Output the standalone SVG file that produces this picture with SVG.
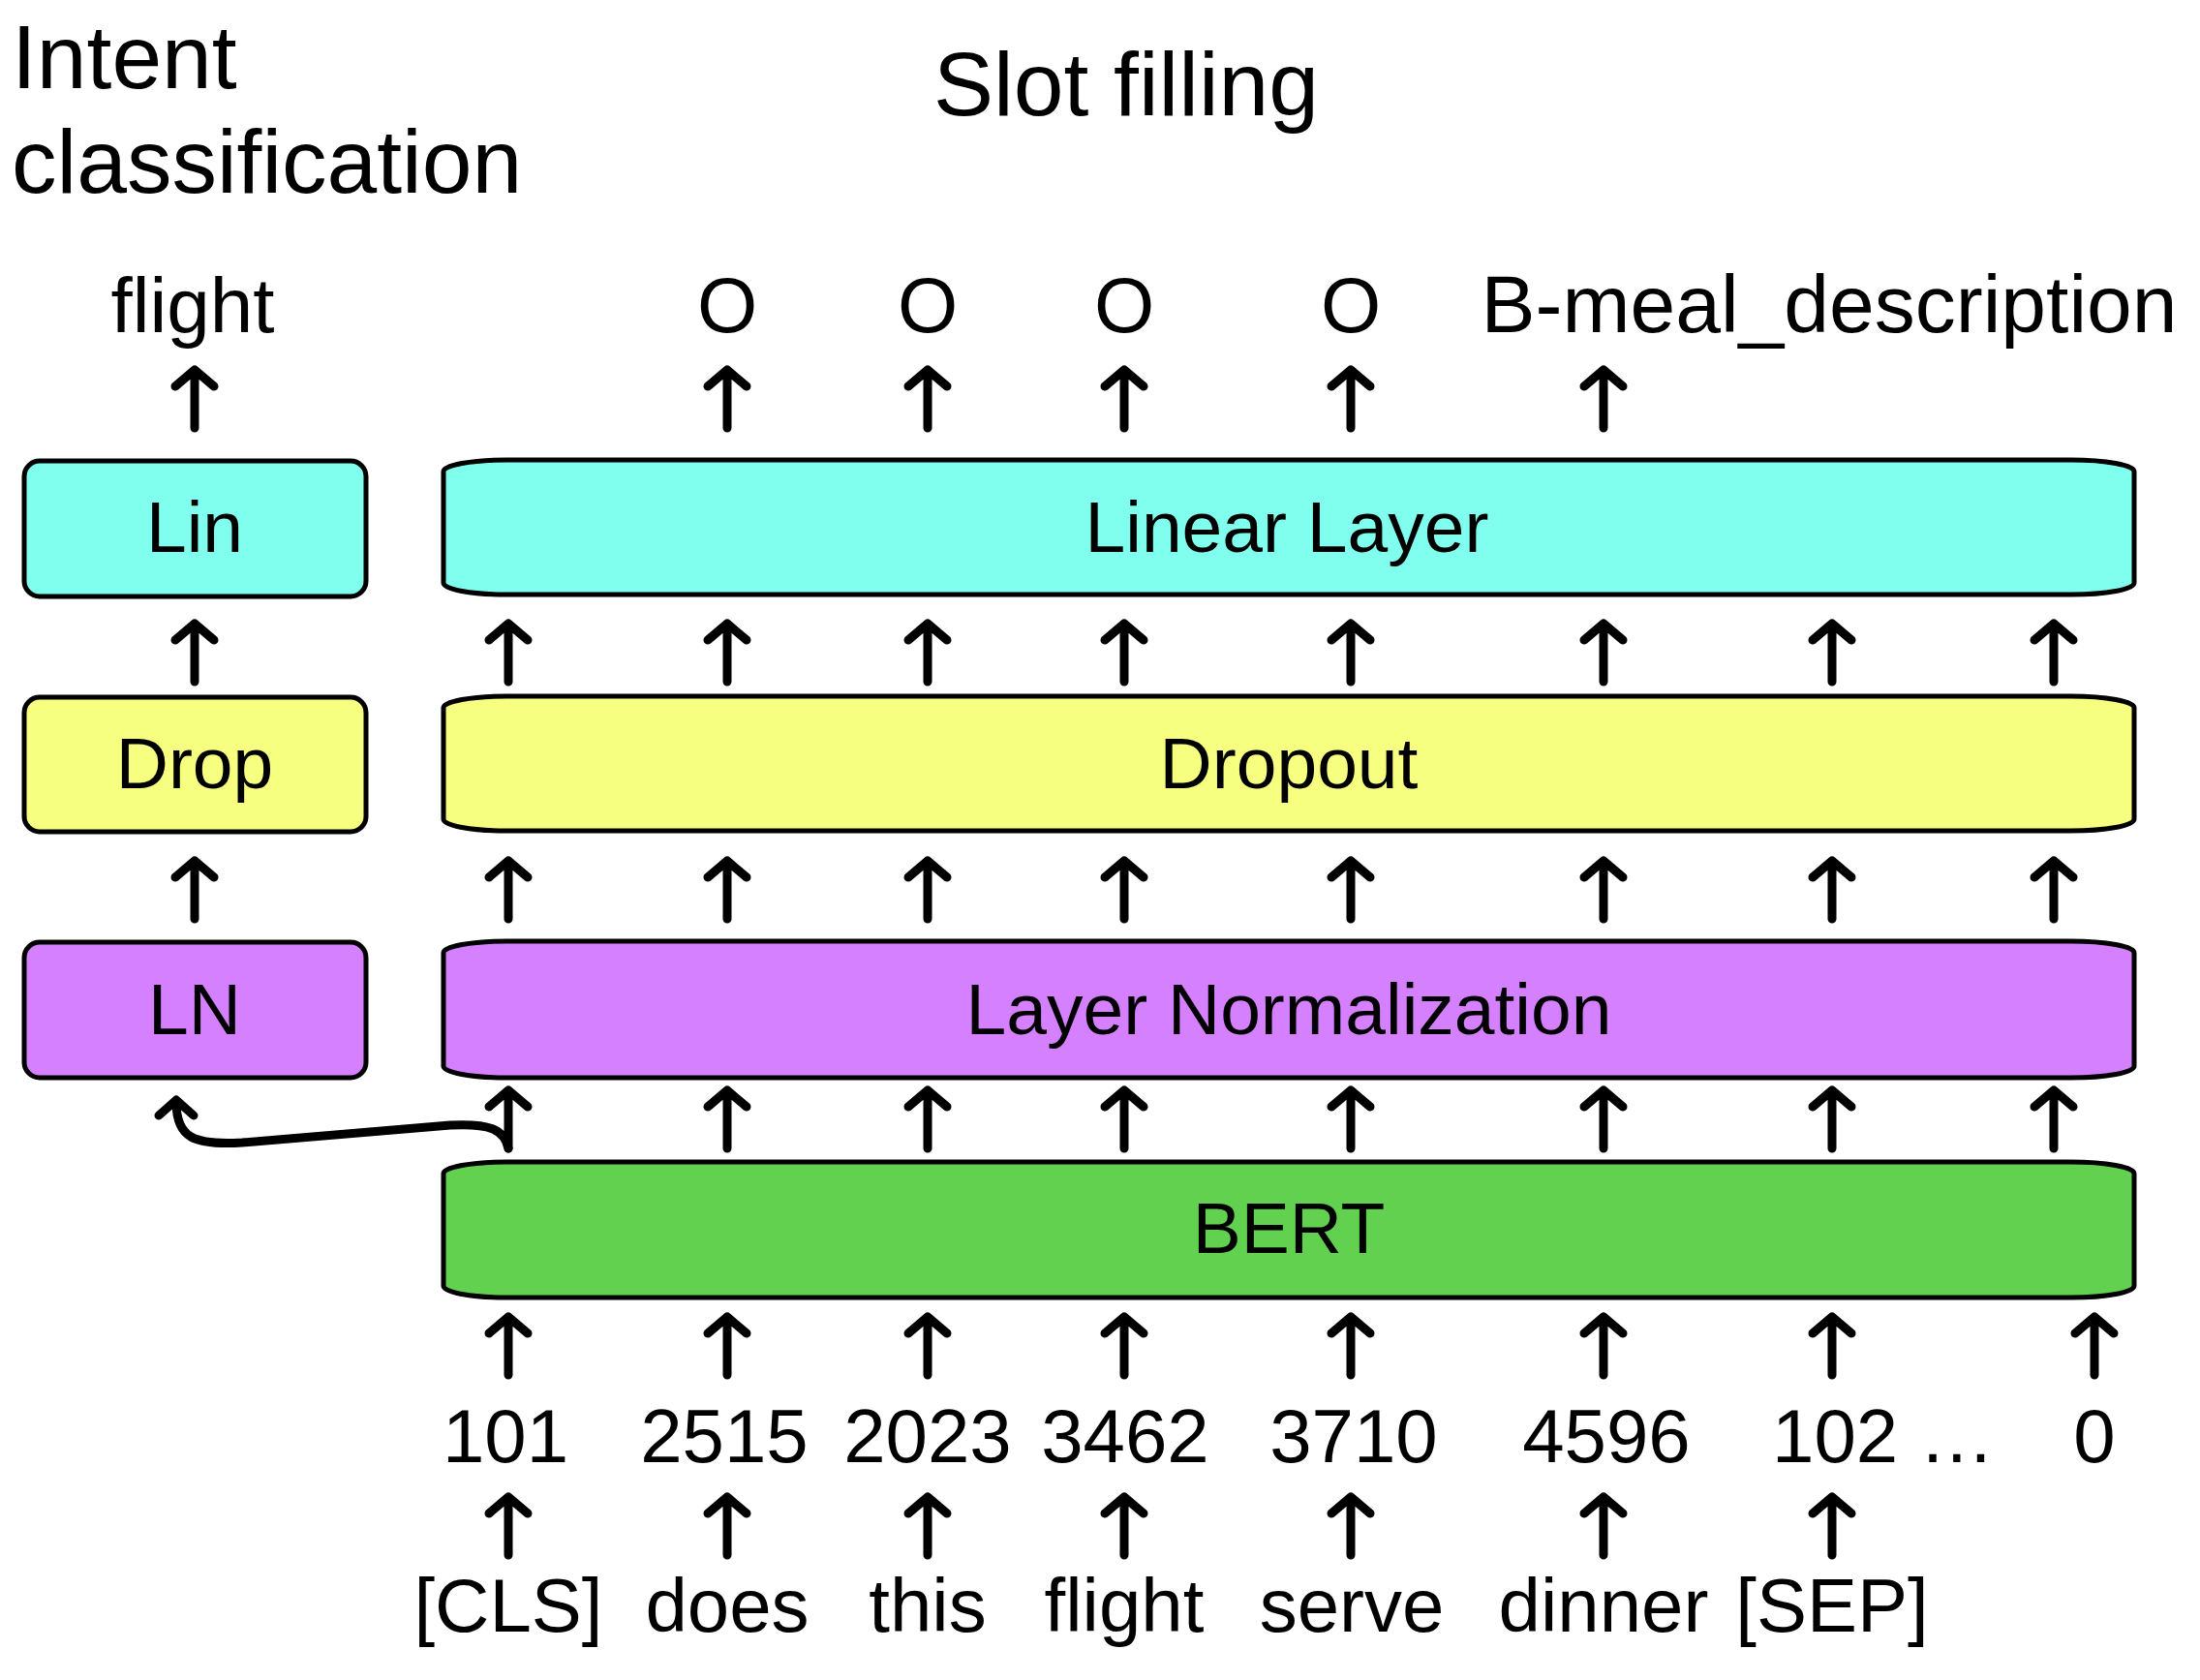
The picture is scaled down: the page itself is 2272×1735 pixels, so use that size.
<svg xmlns="http://www.w3.org/2000/svg" width="2272" height="1735" viewBox="0 0 2272 1735">
<defs>
<style>
text{font-family:"Liberation Sans",Arial,sans-serif;fill:#000}
.t93{font-size:93px}
.t80{font-size:80px;text-anchor:middle}
.t75{font-size:75px;text-anchor:middle}
.t78{font-size:78px;text-anchor:middle}
.box{stroke:#000;stroke-width:5}
.cy{fill:#80FFEE}.ye{fill:#F7FF80}.pu{fill:#D580FF}.gr{fill:#62D150}
.ar{fill:none;stroke:#000;stroke-width:9;stroke-linecap:round;stroke-linejoin:round}
</style>
<path id="a" d="M0 0V-60M-20 -43L0 -60L20 -43"/>
</defs>
<rect width="2272" height="1735" fill="#fff"/>
<g id="titles">
<text class="t93" x="12" y="91">Intent</text>
<text class="t93" x="12" y="199">classification</text>
<text class="t93" x="1163" y="119" text-anchor="middle">Slot filling</text>
</g>
<g id="outputs">
<text class="t80" x="199" y="343">flight</text>
<text class="t80" x="751" y="343">O</text>
<text class="t80" x="958" y="343">O</text>
<text class="t80" x="1161" y="343">O</text>
<text class="t80" x="1395" y="343">O</text>
<text class="t80" x="1889" y="343" style="font-size:84px">B-meal_description</text>
</g>
<g id="lin"><rect class="box cy" x="25" y="476" width="353" height="140" rx="16"/><text class="t75" x="201" y="570">Lin</text></g>
<g id="drop"><rect class="box ye" x="25" y="720" width="353" height="139" rx="16"/><text class="t75" x="201" y="814">Drop</text></g>
<g id="ln"><rect class="box pu" x="25" y="973" width="353" height="140" rx="16"/><text class="t75" x="201" y="1068">LN</text></g>
<g id="linear"><rect class="box cy" x="458" y="475" width="1746" height="139" rx="65" ry="12"/><text class="t75" x="1329" y="570">Linear Layer</text></g>
<g id="dropout"><rect class="box ye" x="458" y="719" width="1746" height="139" rx="65" ry="12"/><text class="t75" x="1331" y="814">Dropout</text></g>
<g id="layernorm"><rect class="box pu" x="458" y="972" width="1746" height="141" rx="65" ry="12"/><text class="t75" x="1331" y="1068">Layer Normalization</text></g>
<g id="bert"><rect class="box gr" x="458" y="1200" width="1746" height="140" rx="65" ry="12"/><text class="t75" x="1331" y="1294">BERT</text></g>
<g id="ids">
<text class="t78" x="522" y="1510">101</text>
<text class="t78" x="748" y="1510">2515</text>
<text class="t78" x="958" y="1510">2023</text>
<text class="t78" x="1162" y="1510">3462</text>
<text class="t78" x="1398" y="1510">3710</text>
<text class="t78" x="1659" y="1510">4596</text>
<text class="t78" x="1830" y="1510" style="text-anchor:start">102 …</text>
<text class="t78" x="2163" y="1510">0</text>
</g>
<g id="tokens">
<text class="t78" x="525" y="1685">[CLS]</text>
<text class="t78" x="751" y="1685">does</text>
<text class="t78" x="958" y="1685">this</text>
<text class="t78" x="1161" y="1685">flight</text>
<text class="t78" x="1396" y="1685">serve</text>
<text class="t78" x="1656" y="1685">dinner</text>
<text class="t78" x="1892" y="1685">[SEP]</text>
</g>
<g id="connectors" class="ar">
<use href="#a" x="201" y="442"/><use href="#a" x="751" y="442"/><use href="#a" x="958" y="442"/><use href="#a" x="1161" y="442"/><use href="#a" x="1395" y="442"/><use href="#a" x="1656" y="442"/>
<use href="#a" x="201" y="704"/><use href="#a" x="525" y="704"/><use href="#a" x="751" y="704"/><use href="#a" x="958" y="704"/><use href="#a" x="1161" y="704"/><use href="#a" x="1395" y="704"/><use href="#a" x="1656" y="704"/><use href="#a" x="1892" y="704"/><use href="#a" x="2121" y="704"/>
<use href="#a" x="201" y="949"/><use href="#a" x="525" y="949"/><use href="#a" x="751" y="949"/><use href="#a" x="958" y="949"/><use href="#a" x="1161" y="949"/><use href="#a" x="1395" y="949"/><use href="#a" x="1656" y="949"/><use href="#a" x="1892" y="949"/><use href="#a" x="2121" y="949"/>
<use href="#a" x="525" y="1186"/><use href="#a" x="751" y="1186"/><use href="#a" x="958" y="1186"/><use href="#a" x="1161" y="1186"/><use href="#a" x="1395" y="1186"/><use href="#a" x="1656" y="1186"/><use href="#a" x="1892" y="1186"/><use href="#a" x="2121" y="1186"/>
<use href="#a" x="525" y="1420"/><use href="#a" x="751" y="1420"/><use href="#a" x="958" y="1420"/><use href="#a" x="1161" y="1420"/><use href="#a" x="1395" y="1420"/><use href="#a" x="1656" y="1420"/><use href="#a" x="1892" y="1420"/><use href="#a" x="2163" y="1420"/>
<use href="#a" x="525" y="1606"/><use href="#a" x="751" y="1606"/><use href="#a" x="958" y="1606"/><use href="#a" x="1161" y="1606"/><use href="#a" x="1395" y="1606"/><use href="#a" x="1656" y="1606"/><use href="#a" x="1892" y="1606"/>
<path d="M525 1186C521 1166 505 1160 465 1162L250 1180C200 1183 182 1175 182 1138M164 1152L182 1136L200 1152"/>
</g>
</svg>
